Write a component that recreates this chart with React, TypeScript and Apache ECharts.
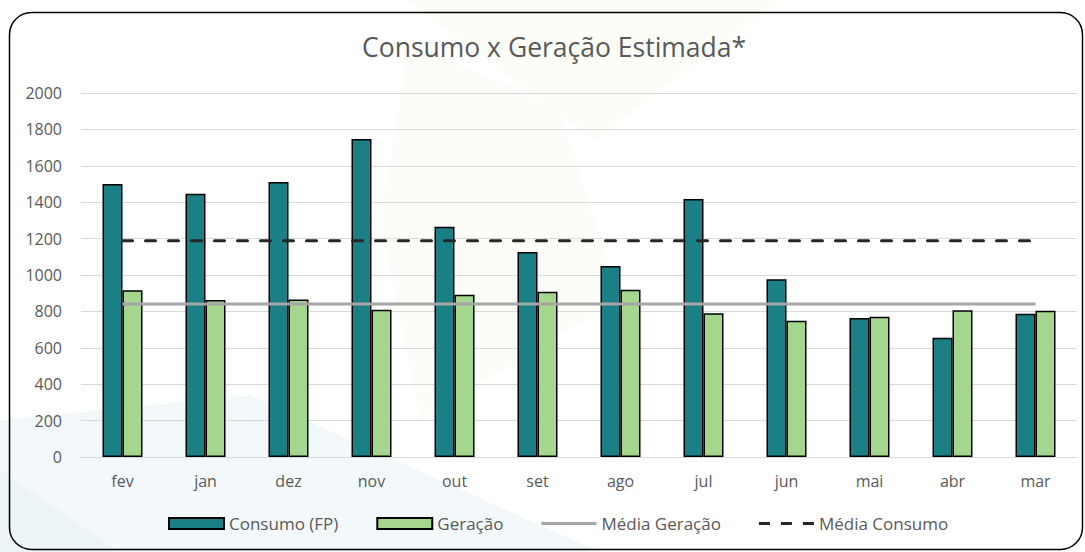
import React, { useEffect, useRef } from "react";
import * as echarts from "echarts";

const categories = ["fev", "jan", "dez", "nov", "out", "set", "ago", "jul", "jun", "mai", "abr", "mar"];
const consumo = [1500, 1447, 1511, 1747, 1265, 1127, 1050, 1418, 977, 764, 655, 787];
const geracao = [916, 863, 866, 809, 892, 908, 919, 790, 749, 771, 806, 804];
const mediaGeracao = [841, 841, 841, 841, 841, 841, 841, 841, 841, 841, 841, 841];
const mediaConsumo = [1188, 1188, 1188, 1188, 1188, 1188, 1188, 1188, 1188, 1188, 1188, 1188];
const yTicks = { min: 0, max: 2000, interval: 200 };
const titleText = "Consumo x Geração Estimada*";
const seriesNames = ["Consumo (FP)", "Geração", "Média Geração", "Média Consumo"];

const FONT = "'Open Sans', sans-serif";
const TEXT_COLOR = "#595959";

export default function App() {
  const ref = useRef<HTMLDivElement>(null);

  useEffect(() => {
    if (!ref.current) return;
    const chart = echarts.init(ref.current, undefined, { renderer: "svg" });
    chart.setOption({
      animation: false,
      backgroundColor: "#ffffff",
      textStyle: { fontFamily: FONT },
      title: {
        text: titleText,
        left: 362,
        top: 33,
        padding: 0,
        textStyle: { fontFamily: FONT, fontSize: 26.5, fontWeight: "normal", color: TEXT_COLOR },
      },
      graphic: [
        {
          type: "polygon",
          z: -10,
          silent: true,
          shape: { points: [[0, 420], [250, 395], [600, 552], [0, 552]] },
          style: { fill: "#f3f9fa" },
        },
        {
          type: "polygon",
          z: -10,
          silent: true,
          shape: { points: [[0, 470], [120, 552], [0, 552]] },
          style: { fill: "#ebf5f7" },
        },
        {
          type: "polygon",
          z: -10,
          silent: true,
          shape: { points: [[405, 0], [780, 0], [595, 140]] },
          style: { fill: "#fcfdf7" },
        },
        {
          type: "polygon",
          z: -10,
          silent: true,
          shape: { points: [[410, 40], [560, 110], [620, 300], [420, 420], [380, 220]] },
          style: { fill: "#fcfdf8" },
        },
        {
          type: "rect",
          silent: true,
          z: 100,
          shape: { x: 9.5, y: 12.5, width: 1073, height: 537, r: 22 },
          style: { fill: "none", stroke: "#000000", lineWidth: 1.5 },
        },
      ],
      legend: {
        left: 168,
        top: 515,
        padding: 0,
        itemWidth: 55,
        itemHeight: 11,
        itemGap: 38,
        textStyle: { fontFamily: FONT, fontSize: 17, color: TEXT_COLOR },
        data: [
          { name: seriesNames[0], icon: "rect" },
          { name: seriesNames[1], icon: "rect" },
          {
            name: seriesNames[2],
            icon: "path://M0,0h55v3h-55z",
            itemStyle: { color: "#a6a6a6", borderWidth: 0 },
          },
          {
            name: seriesNames[3],
            icon: "path://M0,0h11v3h-11zM22,0h11v3h-11zM44,0h11v3h-11z",
            itemStyle: { color: "#262626", borderWidth: 0 },
          },
        ],
      },
      grid: { left: 81, right: 8, top: 93, bottom: 95, containLabel: false },
      xAxis: {
        type: "category",
        data: categories,
        boundaryGap: true,
        axisLine: { show: true, lineStyle: { color: "#d9d9d9", width: 1 } },
        axisTick: { show: false },
        axisLabel: { color: TEXT_COLOR, fontFamily: FONT, fontSize: 16, margin: 16 },
      },
      yAxis: {
        type: "value",
        min: yTicks.min,
        max: yTicks.max,
        interval: yTicks.interval,
        axisLine: { show: false },
        axisTick: { show: false },
        splitLine: { lineStyle: { color: "#d9d9d9", width: 1 } },
        axisLabel: {
          color: TEXT_COLOR,
          fontFamily: FONT,
          fontSize: 16,
          margin: 19,
          formatter: (v: number) => String(v),
        },
      },
      series: [
        {
          name: seriesNames[0],
          type: "bar",
          data: consumo,
          barWidth: 20,
          barGap: "0%",
          itemStyle: { color: "#1b7f86", borderColor: "#000000", borderWidth: 1.5 },
        },
        {
          name: seriesNames[1],
          type: "bar",
          data: geracao,
          barWidth: 20,
          barGap: "0%",
          itemStyle: { color: "#a4d78d", borderColor: "#000000", borderWidth: 1.5 },
        },
        {
          name: seriesNames[2],
          type: "line",
          data: mediaGeracao,
          symbol: "none",
          itemStyle: { color: "#a6a6a6" },
          lineStyle: { color: "#a6a6a6", width: 3 },
          z: 5,
        },
        {
          name: seriesNames[3],
          type: "line",
          data: mediaConsumo,
          symbol: "none",
          itemStyle: { color: "#262626" },
          lineStyle: { color: "#262626", width: 3, type: [10, 13], cap: "round" },
          z: 5,
        },
      ],
    });
    return () => chart.dispose();
  }, []);

  return (
    <div
      ref={ref}
      style={{ position: "fixed", left: 0, top: 0, width: 1085, height: 552 }}
    />
  );
}
